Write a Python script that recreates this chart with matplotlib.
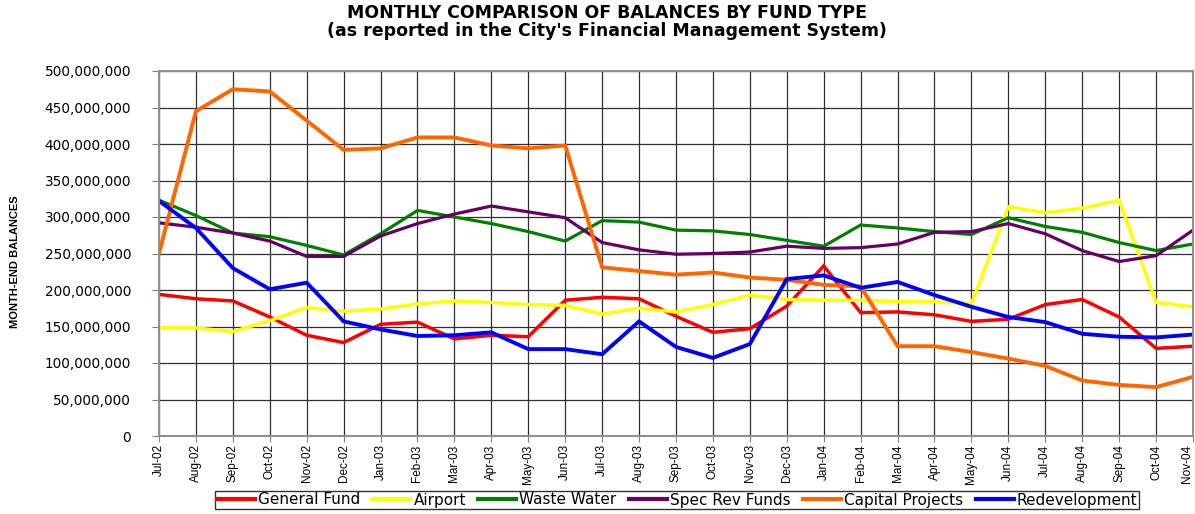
import matplotlib.pyplot as plt
from matplotlib.ticker import FuncFormatter, MultipleLocator
from matplotlib.transforms import ScaledTranslation

months = ["Jul-02", "Aug-02", "Sep-02", "Oct-02", "Nov-02", "Dec-02",
          "Jan-03", "Feb-03", "Mar-03", "Apr-03", "May-03", "Jun-03",
          "Jul-03", "Aug-03", "Sep-03", "Oct-03", "Nov-03", "Dec-03",
          "Jan-04", "Feb-04", "Mar-04", "Apr-04", "May-04", "Jun-04",
          "Jul-04", "Aug-04", "Sep-04", "Oct-04", "Nov-04"]

# balances in millions
general_fund = [194, 188, 185, 163, 138, 128, 153, 156, 133, 138, 136, 186,
                190, 188, 164, 142, 147, 178, 233, 169, 170, 166, 157, 160,
                180, 187, 163, 120, 123]
airport = [148, 148, 143, 158, 176, 171, 174, 181, 185, 183, 180, 179,
           167, 175, 170, 180, 193, 187, 186, 186, 184, 184, 181, 314,
           306, 312, 323, 183, 177]
waste_water = [323, 302, 278, 273, 261, 248, 277, 309, 300, 291, 280, 267,
               295, 293, 282, 281, 276, 268, 260, 289, 285, 280, 276, 299,
               287, 279, 265, 254, 263]
spec_rev = [292, 286, 278, 267, 246, 246, 274, 291, 304, 315, 307, 299,
            265, 255, 249, 250, 252, 260, 257, 258, 263, 279, 280, 291,
            277, 254, 239, 247, 282]
capital_projects = [250, 445, 475, 472, 432, 392, 394, 409, 409, 398, 394, 398,
                    231, 226, 221, 224, 217, 214, 207, 205, 123, 123, 115, 106,
                    96, 76, 70, 67, 81]
redevelopment = [322, 285, 230, 201, 210, 157, 146, 137, 138, 142, 119, 119,
                 112, 157, 122, 107, 126, 215, 220, 203, 211, 193, 177, 163,
                 156, 140, 136, 135, 139]

series = [
    ("General Fund", general_fund, "#ff0000", 2.5),
    ("Airport", airport, "#ffff00", 2.5),
    ("Waste Water", waste_water, "#008000", 2.3),
    ("Spec Rev Funds", spec_rev, "#660066", 2.3),
    ("Capital Projects", capital_projects, "#ff6600", 2.8),
    ("Redevelopment", redevelopment, "#0000ff", 2.8),
]

plt.rcParams["font.family"] = ["Liberation Sans", "DejaVu Sans"]
wide = ["DejaVu Sans"]

fig = plt.figure(figsize=(11.95, 5.14), dpi=100)
ax = fig.add_axes([159 / 1195, 78 / 514, 1034 / 1195, 365 / 514])

x = list(range(len(months)))
for name, vals, color, lw in series:
    ax.plot(x, [v * 1e6 for v in vals], color=color, lw=lw, label=name,
            solid_joinstyle="miter")

ax.set_xlim(0, len(months) - 1)
ax.set_ylim(0, 500e6)
ax.yaxis.set_major_locator(MultipleLocator(50e6))
ax.yaxis.set_major_formatter(FuncFormatter(lambda v, p: f"{v:,.0f}"))
ax.set_xticks(x)
ax.set_xticklabels(months, rotation=90, fontsize=8.5)
for lab in ax.get_yticklabels():
    lab.set_family(wide)
ax.tick_params(axis="y", labelsize=9.8, length=5, color="#808080", pad=15)
ax.tick_params(axis="x", length=4, color="#808080", pad=2)
# keep the last month label inside the figure
last = ax.get_xticklabels()[-1]
last.set_transform(last.get_transform()
                   + ScaledTranslation(-4 / 72, 0, fig.dpi_scale_trans))
ax.grid(True, color="#303030", lw=0.9)
ax.set_axisbelow(True)
for s in ax.spines.values():
    s.set_color("#909090")
    s.set_linewidth(1.5)

fig.text(15 / 1195, 0.49, "MONTH-END BALANCES", rotation=90, ha="center",
         va="center", fontsize=8, fontweight="bold")
fig.text(0.508, 1 - 13 / 514, "MONTHLY COMPARISON OF BALANCES BY FUND TYPE",
         ha="center", va="center", fontsize=12.5, fontweight="bold",
         family=wide)
fig.text(0.508, 1 - 31 / 514,
         "(as reported in the City's Financial Management System)",
         ha="center", va="center", fontsize=12.5, fontweight="bold",
         family=wide)

leg = fig.legend(loc="center", bbox_to_anchor=(677 / 1195, 1 - 500 / 514),
                 ncol=6, frameon=True, fancybox=False,
                 edgecolor="black", handlelength=2.5, handletextpad=0.2,
                 columnspacing=0.8, borderpad=0.1,
                 prop={"family": wide, "size": 11})
leg.get_frame().set_linewidth(1.0)
for h in leg.get_lines():
    h.set_linewidth(3)

fig.savefig("out.png", dpi=100)
